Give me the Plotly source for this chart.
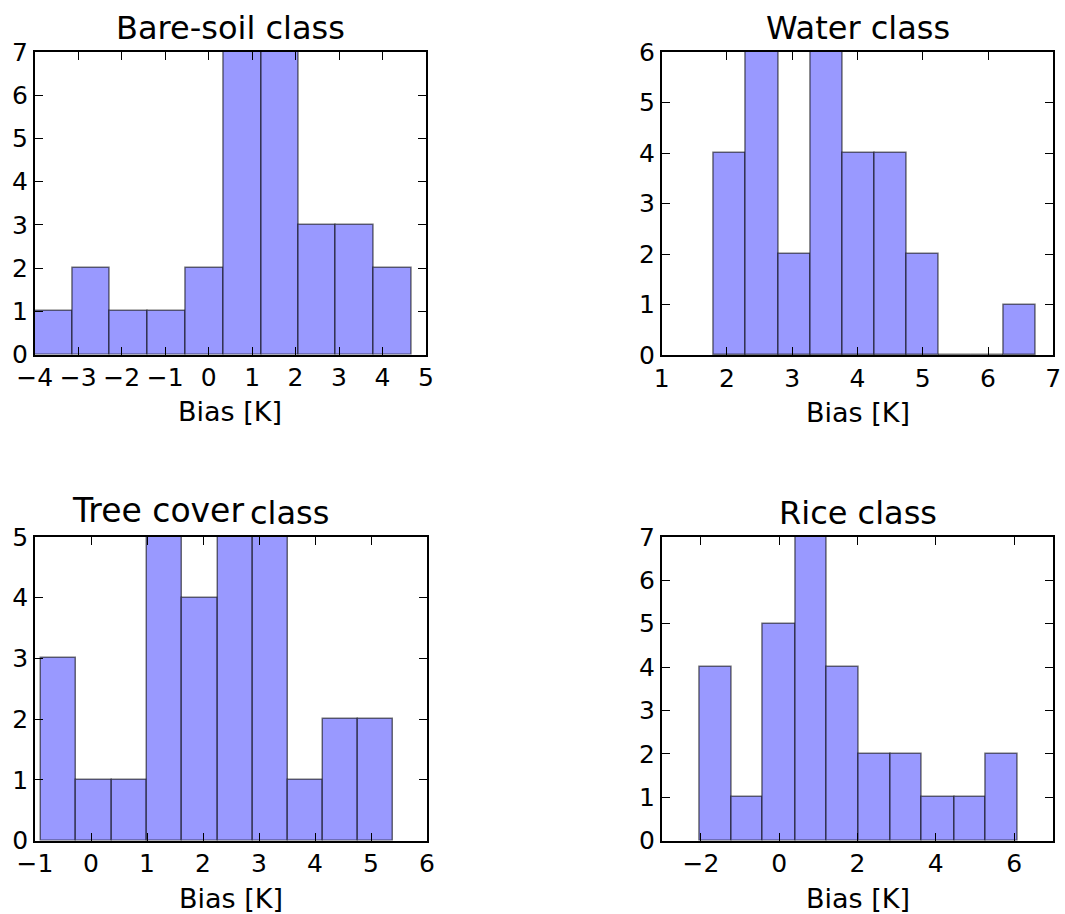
import plotly.graph_objects as go

# ---- data (bin edges and counts) ----
bare_edges = [-4.0, -3.13, -2.27, -1.40, -0.53, 0.34, 1.21, 2.07, 2.93, 3.79, 4.66]
bare_counts = [1, 2, 1, 1, 2, 7, 7, 3, 3, 2]

water_edges = [1.80, 2.29, 2.79, 3.28, 3.77, 4.27, 4.76, 5.25, 5.75, 6.24, 6.73]
water_counts = [4, 6, 2, 6, 4, 4, 2, 0, 0, 1]

tree_edges = [-0.89, -0.26, 0.37, 1.00, 1.63, 2.26, 2.89, 3.51, 4.14, 4.77, 5.40]
tree_counts = [3, 1, 1, 5, 4, 5, 5, 1, 2, 2]

rice_edges = [-2.03, -1.22, -0.41, 0.41, 1.22, 2.03, 2.84, 3.65, 4.47, 5.28, 6.09]
rice_counts = [4, 1, 5, 7, 4, 2, 2, 1, 1, 2]

titles = ["Bare-soil class", "Water class", "Tree cover class", "Rice class"]
x_label = "Bias [K]"

bare_xticks = [-4, -3, -2, -1, 0, 1, 2, 3, 4, 5]
water_xticks = [1, 2, 3, 4, 5, 6, 7]
tree_xticks = [-1, 0, 1, 2, 3, 4, 5, 6]
rice_xticks = [-2, 0, 2, 4, 6]

bare_xrange = [-4, 5]
water_xrange = [1, 7]
tree_xrange = [-1, 6]
rice_xrange = [-3, 7]

bare_ymax, water_ymax, tree_ymax, rice_ymax = 7, 6, 5, 7

# ---- layout geometry ----
W, H = 1065, 914
FONT = "DejaVu Sans"
FILL = "#9999ff"
EDGE = "rgba(0,0,0,0.55)"

panels = [
    dict(edges=bare_edges, counts=bare_counts, xticks=bare_xticks, xr=bare_xrange, ymax=bare_ymax,
         xd=[34.7 / W, 426.0 / W], yd=[1 - 354.5 / H, 1 - 52.0 / H]),
    dict(edges=water_edges, counts=water_counts, xticks=water_xticks, xr=water_xrange, ymax=water_ymax,
         xd=[661.7 / W, 1053.3 / W], yd=[1 - 355.0 / H, 1 - 52.0 / H]),
    dict(edges=tree_edges, counts=tree_counts, xticks=tree_xticks, xr=tree_xrange, ymax=tree_ymax,
         xd=[35.0 / W, 427.0 / W], yd=[1 - 840.5 / H, 1 - 537.0 / H]),
    dict(edges=rice_edges, counts=rice_counts, xticks=rice_xticks, xr=rice_xrange, ymax=rice_ymax,
         xd=[661.7 / W, 1053.3 / W], yd=[1 - 840.5 / H, 1 - 537.0 / H]),
]

fig = go.Figure()
annotations = []
for i, p in enumerate(panels):
    n = "" if i == 0 else str(i + 1)
    e = p["edges"]
    centers = [(e[k] + e[k + 1]) / 2 for k in range(len(e) - 1)]
    widths = [e[k + 1] - e[k] for k in range(len(e) - 1)]
    fig.add_trace(go.Bar(
        x=centers, y=p["counts"], width=widths,
        marker=dict(color=FILL, line=dict(color=EDGE, width=1.5)),
        xaxis="x" + n, yaxis="y" + n, showlegend=False, hoverinfo="x+y",
    ))
    axcommon = dict(showline=True, linecolor="black", linewidth=1.8, mirror="ticks",
                    ticks="inside", ticklen=8, tickwidth=1.3, tickcolor="black",
                    showgrid=False, zeroline=False, automargin=False,
                    tickfont=dict(family=FONT, size=25, color="black"))
    fig.update_layout(**{
        "xaxis" + n: dict(domain=p["xd"], range=p["xr"], tickvals=p["xticks"],
                          anchor="y" + n, **axcommon),
        "yaxis" + n: dict(domain=p["yd"], range=[0, p["ymax"]], dtick=1,
                          anchor="x" + n, **axcommon),
    })
    xc = (p["xd"][0] + p["xd"][1]) / 2
    # x-axis title
    annotations.append(dict(text=x_label, xref="paper", yref="paper", x=xc, y=p["yd"][0],
                            xanchor="center", yanchor="top", yshift=-40, showarrow=False,
                            font=dict(family=FONT, size=27, color="black")))
    # panel title
    if i == 2:
        annotations.append(dict(text="Tree cover", xref="paper", yref="paper", x=157.5 / W, y=p["yd"][1],
                                xanchor="center", yanchor="bottom", yshift=5, showarrow=False,
                                font=dict(family=FONT, size=33, color="black")))
        annotations.append(dict(text="class", xref="paper", yref="paper", x=289.0 / W, y=p["yd"][1],
                                xanchor="center", yanchor="bottom", yshift=3, showarrow=False,
                                font=dict(family=FONT, size=32, color="black")))
    else:
        annotations.append(dict(text=titles[i], xref="paper", yref="paper", x=xc, y=p["yd"][1],
                                xanchor="center", yanchor="bottom", yshift=3, showarrow=False,
                                font=dict(family=FONT, size=32, color="black")))

fig.update_layout(
    width=W, height=H, margin=dict(l=0, r=0, t=0, b=0),
    paper_bgcolor="white", plot_bgcolor="white",
    bargap=0, annotations=annotations,
    font=dict(family=FONT, color="black"),
)

fig.write_html("out.html", config={"displayModeBar": False},
               post_script="document.body.style.margin='0px';document.body.style.overflow='hidden';")
